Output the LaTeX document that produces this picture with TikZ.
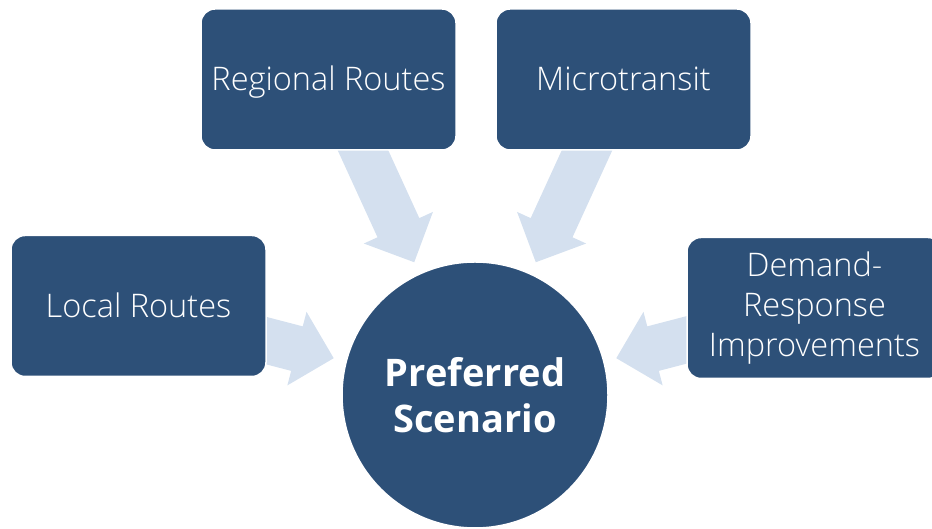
\documentclass[tikz,border=0pt]{standalone}
\usepackage{fontspec}
\setmainfont{Open Sans}
\newfontfamily\lightfont{Open Sans Light}
\definecolor{navy}{HTML}{2D5078}
\definecolor{paleblue}{HTML}{D4E0EF}
% block arrow aimed at the hub centre: #1 = polar angle of the arrow, #2 = radius of its tail
\newcommand\feedarrow[2]{%
  \fill[feed, shift={(c)}, rotate=#1-180]
    (-146,0) -- (-184,38) -- (-184,23) -- (-#2,23) -- (-#2,-23)
    -- (-184,-23) -- (-184,-38) -- cycle;}
\begin{document}
\begin{tikzpicture}[x=1pt,y=1pt,
  box/.style={draw=white, line width=1.5pt, fill=navy, rounded corners=14pt,
    minimum width=255pt, minimum height=141pt, inner sep=0pt,
    text=white, align=center, font=\lightfont\fontsize{32.5}{40}\selectfont},
  oneline/.style={text height=23pt, text depth=0pt},
  hub/.style={circle, fill=navy, draw=white, line width=1.5pt,
    minimum size=266pt, inner sep=0pt, text=white, align=center,
    font=\bfseries\fontsize{38}{46}\selectfont},
  feed/.style={fill=paleblue}]
\useasboundingbox (0,0) rectangle (932,529);
\clip (0,0) rectangle (932,529);
\coordinate (c) at (475,134);

% arrows first, so the boxes hide their tails
\feedarrow{114.6}{300}
\feedarrow{65.4}{300}
\feedarrow{165.4}{240}
\feedarrow{14.6}{240}

\node[box, oneline] (regional) at (328.5,449.5) {Regional Routes};
\node[box, oneline] (micro) at (623.5,449.5) {Microtransit};
\node[box, oneline] (local) at (138.5,223) {Local Routes};
\node[box] (demand) at (814.5,221) {Demand-\\Response\\Improvements};

\node[hub] (hub) at (c) {Preferred\\Scenario};
\end{tikzpicture}
\end{document}
